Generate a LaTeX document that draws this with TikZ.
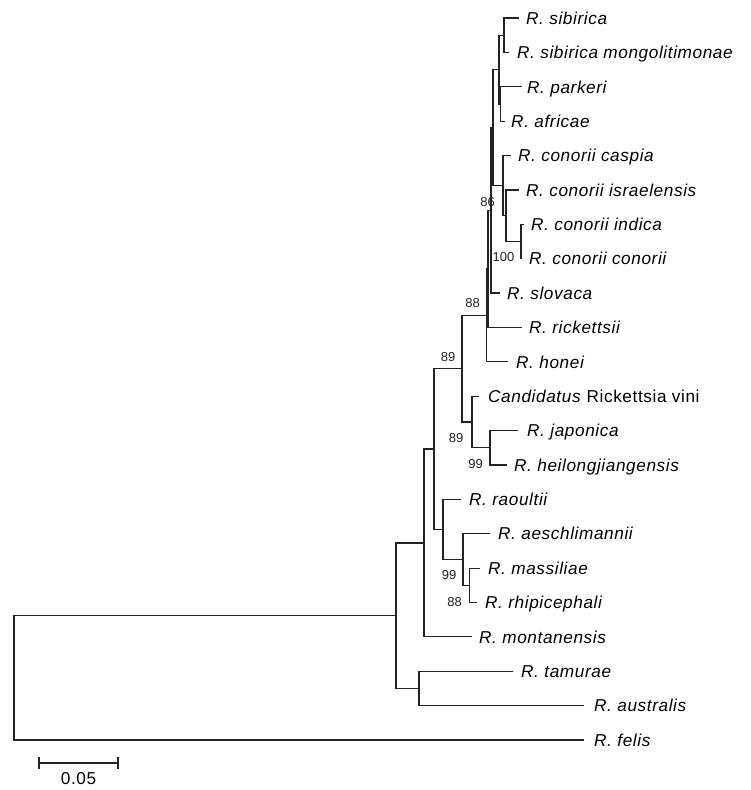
\documentclass[tikz,border=0pt]{standalone}
\usepackage{fontspec}
\setmainfont{Liberation Sans}[LetterSpace=3.5]
\newfontfamily\bsfont{Liberation Sans}
\definecolor{linec}{RGB}{35,35,35}
\tikzset{
  br/.style={line width=1.2pt, draw=linec},
  taxon/.style={anchor=base west, inner sep=0pt, font=\fontsize{17.2}{20}\selectfont\itshape},
  boot/.style={anchor=center, inner sep=0pt, text=linec, font=\bsfont\fontsize{13}{15}\selectfont},
  sbtext/.style={anchor=base, inner sep=0pt, font=\fontsize{17.2}{20}\selectfont},
}
\begin{document}
\begin{tikzpicture}[x=1pt,y=-1pt]
\useasboundingbox[fill=white] (0,0) rectangle (750,790);
% leaves (branch ends)
\coordinate (l1) at (519,18.0);
\coordinate (l2) at (509,52.4);
\coordinate (l3) at (522,86.8);
\coordinate (l4) at (505,121.1);
\coordinate (l5) at (511,155.5);
\coordinate (l6) at (519,189.9);
\coordinate (l7) at (524,224.3);
\coordinate (l8) at (522,258.7);
\coordinate (l9) at (500,293.0);
\coordinate (l10) at (522,327.4);
\coordinate (l11) at (508,361.8);
\coordinate (l12) at (479,396.2);
\coordinate (l13) at (518,430.6);
\coordinate (l14) at (507,464.9);
\coordinate (l15) at (461,499.3);
\coordinate (l16) at (490,533.7);
\coordinate (l17) at (480,568.1);
\coordinate (l18) at (477,602.4);
\coordinate (l19) at (472,636.8);
\coordinate (l20) at (513,671.2);
\coordinate (l21) at (584,705.6);
\coordinate (l22) at (584,740.0);
% internal nodes
\coordinate (nG) at (504,35.2);
\coordinate (nI) at (500.5,104.0);
\coordinate (nH) at (499,69.6);
\coordinate (nF) at (521,241.5);
\coordinate (nE) at (506,215.7);
\coordinate (nK) at (503,185.6);
\coordinate (nJ) at (493,127.6);
\coordinate (nL) at (491,210.3);
\coordinate (nM) at (488,268.9);
\coordinate (nA) at (486.5,315.3);
\coordinate (nU) at (490,447.8);
\coordinate (nV) at (472,422.0);
\coordinate (nP) at (462,368.7);
\coordinate (nW) at (469.5,585.3);
\coordinate (nX) at (463,559.5);
\coordinate (nQ) at (443,529.4);
\coordinate (nN) at (434,449.0);
\coordinate (nR) at (424,542.9);
\coordinate (nT) at (419,688.4);
\coordinate (nS) at (396,615.7);
\coordinate (root) at (14,677.8);
% branches
\draw[br] (nG) |- (l1);  \draw[br] (nG) |- (l2);
\draw[br] (nI) |- (l3);  \draw[br] (nI) |- (l4);
\draw[br] (nH) |- (nG);  \draw[br] (nH) |- (nI);
\draw[br] (nF) |- (l7);  \draw[br] (nF) |- (l8);
\draw[br] (nE) |- (l6);  \draw[br] (nE) |- (nF);
\draw[br] (nK) |- (l5);  \draw[br] (nK) |- (nE);
\draw[br] (nJ) |- (nH);  \draw[br] (nJ) |- (nK);
\draw[br] (nL) |- (nJ);  \draw[br] (nL) |- (l9);
\draw[br] (nM) |- (nL);  \draw[br] (nM) |- (l10);
\draw[br] (nA) |- (nM);  \draw[br] (nA) |- (l11);
\draw[br] (nU) |- (l13); \draw[br] (nU) |- (l14);
\draw[br] (nV) |- (l12); \draw[br] (nV) |- (nU);
\draw[br] (nP) |- (nA);  \draw[br] (nP) |- (nV);
\draw[br] (nW) |- (l17); \draw[br] (nW) |- (l18);
\draw[br] (nX) |- (l16); \draw[br] (nX) |- (nW);
\draw[br] (nQ) |- (l15); \draw[br] (nQ) |- (nX);
\draw[br] (nN) |- (nP);  \draw[br] (nN) |- (nQ);
\draw[br] (nR) |- (nN);  \draw[br] (nR) |- (l19);
\draw[br] (nT) |- (l20); \draw[br] (nT) |- (l21);
\draw[br] (nS) |- (nR);  \draw[br] (nS) |- (nT);
\draw[br] (root) |- (nS); \draw[br] (root) |- (l22);
% taxon labels
\node[taxon] (t1) at (526,24.2) {R. sibirica};
\node[taxon] (t2) at (517,58.6) {R. sibirica mongolitimonae};
\node[taxon] (t3) at (527,93.0) {R. parkeri};
\node[taxon] (t4) at (511,127.3) {R. africae};
\node[taxon] (t5) at (518,161.7) {R. conorii caspia};
\node[taxon] (t6) at (526,196.1) {R. conorii israelensis};
\node[taxon] (t7) at (531,230.5) {R. conorii indica};
\node[taxon] (t8) at (529,264.9) {R. conorii conorii};
\node[taxon] (t9) at (507,299.2) {R. slovaca};
\node[taxon] (t10) at (529,333.6) {R. rickettsii};
\node[taxon] (t11) at (516,368.0) {R. honei};
\node[taxon] (t12) at (488,402.4) {Candidatus\/ \upshape Rickettsia vini};
\node[taxon] (t13) at (527,436.8) {R. japonica};
\node[taxon] (t14) at (514,471.1) {R. heilongjiangensis};
\node[taxon] (t15) at (469,505.5) {R. raoultii};
\node[taxon] (t16) at (498,539.9) {R. aeschlimannii};
\node[taxon] (t17) at (488,574.3) {R. massiliae};
\node[taxon] (t18) at (485,608.6) {R. rhipicephali};
\node[taxon] (t19) at (479,643.0) {R. montanensis};
\node[taxon] (t20) at (521,677.4) {R. tamurae};
\node[taxon] (t21) at (594,711.8) {R. australis};
\node[taxon] (t22) at (594,746.2) {R. felis};
% bootstrap values
\node[boot] (b1) at (487.5,202) {86};
\node[boot] (b2) at (503.5,257) {100};
\node[boot] (b3) at (472.5,303) {88};
\node[boot] (b4) at (448,357) {89};
\node[boot] (b5) at (456,438) {89};
\node[boot] (b6) at (475.5,464) {99};
\node[boot] (b7) at (449,575) {99};
\node[boot] (b8) at (454.5,602) {88};
% scale bar
\coordinate (sb1) at (39,763);
\coordinate (sb2) at (118,763);
\draw[br] (sb1) -- (sb2);
\draw[br] ([yshift=-6pt]sb1) -- ([yshift=6pt]sb1);
\draw[br] ([yshift=-6pt]sb2) -- ([yshift=6pt]sb2);
\node[sbtext] (sbl) at (78.5,784) {0.05};
\end{tikzpicture}
\end{document}
